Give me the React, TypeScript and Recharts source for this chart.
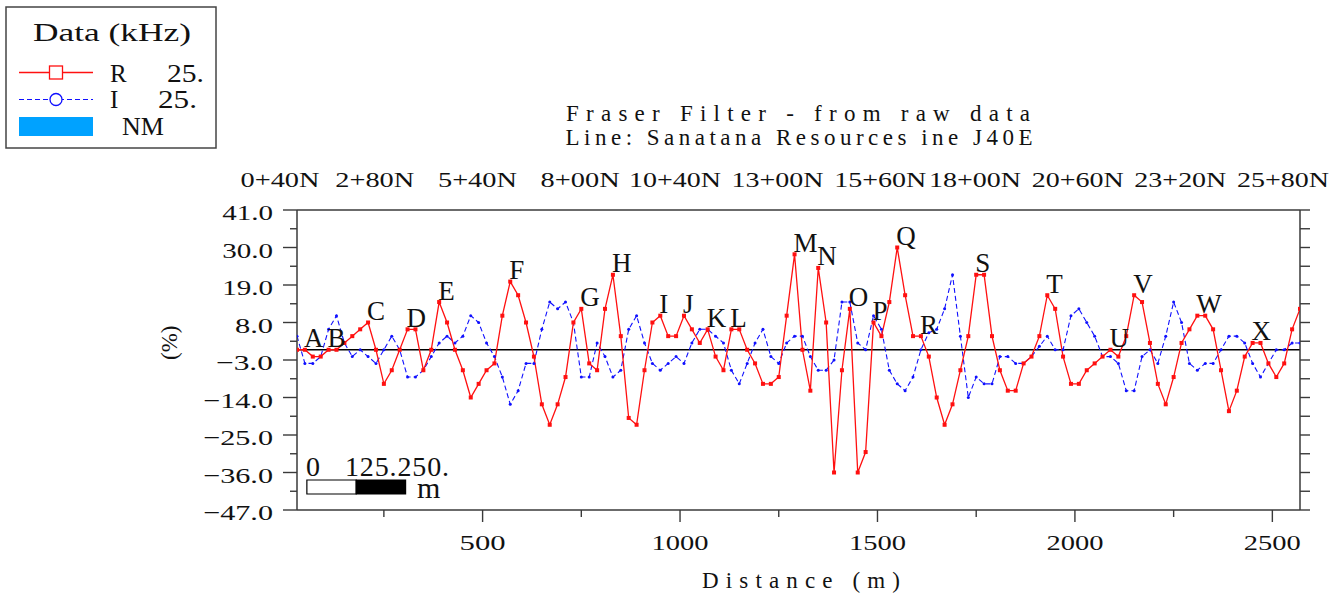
import React from "react";
import {
  LineChart,
  Line,
  XAxis,
  YAxis,
  ReferenceLine,
  ReferenceArea,
  LabelList,
  Legend
} from "recharts";

// distance along the line (m)
const distance = [
  30, 50, 70, 90, 110, 130, 150, 170, 190, 210, 230, 250, 270, 290, 310, 330,
  350, 370, 390, 410, 430, 450, 470, 490, 510, 530, 550, 570, 590, 610, 630, 650,
  670, 690, 710, 730, 750, 770, 790, 810, 830, 850, 870, 890, 910, 930, 950, 970,
  990, 1010, 1030, 1050, 1070, 1090, 1110, 1130, 1150, 1170, 1190, 1210, 1230, 1250, 1270, 1290,
  1310, 1330, 1350, 1370, 1390, 1410, 1430, 1450, 1470, 1490, 1510, 1530, 1550, 1570, 1590, 1610,
  1630, 1650, 1670, 1690, 1710, 1730, 1750, 1770, 1790, 1810, 1830, 1850, 1870, 1890, 1910, 1930,
  1950, 1970, 1990, 2010, 2030, 2050, 2070, 2090, 2110, 2130, 2150, 2170, 2190, 2210, 2230, 2250,
  2270, 2290, 2310, 2330, 2350, 2370, 2390, 2410, 2430, 2450, 2470, 2490, 2510, 2530, 2550, 2570
];

// R 25 kHz, Fraser filtered (%)
const realPct = [
  0, 0, -2, -2, 0, 0, 2, 4, 6, 8, 0, -10, -6, 0, 6, 6,
  -6, 0, 14, 8, 0, -6, -14, -10, -6, -4, 10, 20, 16, 8, -2, -16,
  -22, -16, -8, 8, 12, -4, -6, 12, 22, 4, -20, -22, -6, 8, 10, 4,
  4, 10, 6, 2, 6, -2, -6, 6, 6, 0, -4, -10, -10, -8, 10, 28,
  0, -12, 24, 8, -36, -6, 12, -36, -30, 8, 4, 14, 30, 16, 4, 4,
  -2, -14, -22, -16, -6, 4, 22, 22, 4, -6, -12, -12, -4, -2, 4, 16,
  12, -2, -10, -10, -6, -4, -2, 0, -2, 4, 16, 14, 2, -10, -16, -8,
  2, 6, 10, 10, 6, -6, -18, -12, -2, 2, 2, -4, -8, -4, 6, 12
];

// I 25 kHz, Fraser filtered (%)
const imagPct = [
  4, -4, -4, -2, 6, 10, 2, -2, 0, -2, -4, 0, 4, 0, -8, -8,
  -6, -2, 2, 4, 2, 4, 10, 8, 2, -2, -8, -16, -12, -4, -4, 6,
  14, 12, 14, 8, -8, -8, 2, -2, -8, -6, 6, 10, 2, -4, -6, -4,
  -2, -4, 2, 6, 6, 4, 2, -6, -10, -4, 2, 6, -2, -4, 2, 4,
  4, -2, -6, -6, -3, 14, 14, 2, 0, 10, 6, -6, -10, -12, -8, 0,
  5, 6, 12, 22, 4, -14, -8, -10, -10, -2, -2, -4, -4, -2, 1, 4,
  0, 0, 10, 12, 8, 4, -2, -2, -4, -12, -12, -2, 0, -4, 4, 14,
  8, -4, -6, -4, -4, 0, 4, 4, 2, -4, -8, -4, 0, 0, 2, 2
];

const peakLetters = ["A", "B", "C", "D", "E", "F", "G", "H", "I", "J", "K", "L",
  "M", "N", "O", "P", "Q", "R", "S", "T", "U", "V", "W", "X"];
const peakDistance = [50, 110, 210, 310, 390, 570, 750, 830, 950, 1010, 1070, 1130,
  1290, 1350, 1430, 1490, 1550, 1610, 1750, 1930, 2090, 2150, 2310, 2450];

const yMajorTicks = [-47, -36, -25, -14, -3, 8, 19, 30, 41];
const yAllTicks = [-47, -41.5, -36, -30.5, -25, -19.5, -14, -8.5, -3, 2.5, 8, 13.5, 19, 24.5, 30, 35.5, 41];
const xMajorTicks = [500, 1000, 1500, 2000, 2500];
const xAllTicks = [250, 500, 750, 1000, 1250, 1500, 1750, 2000, 2250, 2500];
// station chainage along the top (m) and its labels
const stationTicks = [40, 280, 540, 800, 1040, 1300, 1560, 1800, 2060, 2320, 2580];
const stationLabels = ["0+40N", "2+80N", "5+40N", "8+00N", "10+40N", "13+00N",
  "15+60N", "18+00N", "20+60N", "23+20N", "25+80N"];
const stationOffset = 53; // station minus distance

const data = distance.map((d, k) => {
  const p = peakDistance.indexOf(d);
  return { d, R: realPct[k], I: imagPct[k], mark: p >= 0 ? peakLetters[p] : "" };
});

const SERIF = "'Liberation Serif', 'Times New Roman', serif";
const AXIS = "#3a3a3a";
const RED = "#ff1010";
const BLUE = "#1010ff";

const LeftTick = (props: any) => {
  const { x, y, payload } = props;
  const v = payload.value as number;
  const major = yMajorTicks.includes(v);
  const body = Math.abs(v).toFixed(1);
  const label = v < 0 ? "\u2212" + body : body;
  const w = body.length * 12.7 + (v < 0 ? 19 : 0);
  return (
    <g>
      <line x1={x - (major ? 14 : 7)} y1={y} x2={x} y2={y} stroke={AXIS} strokeWidth={1.4} />
      {major && (
        <text x={x - 24} y={y + 10} textAnchor="end" fontFamily={SERIF} fontSize={22}
          fill="#111" textLength={w} lengthAdjust="spacingAndGlyphs">{label}</text>
      )}
    </g>
  );
};

const RightTick = (props: any) => {
  const { x, y } = props;
  return <line x1={x} y1={y} x2={x + 10} y2={y} stroke={AXIS} strokeWidth={1.4} />;
};

const BottomTick = (props: any) => {
  const { x, y, payload } = props;
  const v = payload.value as number;
  const major = xMajorTicks.includes(v);
  const s = String(v);
  return (
    <g>
      <line x1={x} y1={y} x2={x} y2={y + (major ? 12 : 7)} stroke={AXIS} strokeWidth={1.4} />
      {major && (
        <text x={x} y={y + 40} textAnchor="middle" fontFamily={SERIF} fontSize={22}
          fill="#111" textLength={s.length === 3 ? 46 : 57} lengthAdjust="spacingAndGlyphs">{s}</text>
      )}
    </g>
  );
};

const TopTick = (props: any) => {
  const { x, y, payload } = props;
  const idx = stationTicks.indexOf(payload.value + stationOffset);
  const s = idx >= 0 ? stationLabels[idx] : "";
  return (
    <text x={x} y={y - 23.5} textAnchor="middle" fontFamily={SERIF} fontSize={22}
      fill="#111" textLength={s.length === 5 ? 79 : 92} lengthAdjust="spacingAndGlyphs">{s}</text>
  );
};

const PeakLabel = (props: any) => {
  const value = props.value;
  if (!value) return null;
  const px = props.viewBox?.x ?? props.x;
  const py = props.viewBox?.y ?? props.y;
  return (
    <text x={px - 1} y={py - 2.5} fontFamily={SERIF} fontSize={27} fill="#111">{value}</text>
  );
};

const SquareDot = (props: any) => {
  const { cx, cy, index } = props;
  return <rect key={"r" + index} x={cx - 2} y={cy - 2} width={4} height={4} fill={RED} />;
};

const RoundDot = (props: any) => {
  const { cx, cy, index } = props;
  return <circle key={"i" + index} cx={cx} cy={cy} r={1.5} fill={BLUE} />;
};

const LegendBox = () => (
  <svg width={222} height={152} style={{ display: "block" }}>
    <rect x={6} y={7} width={210} height={141} fill="#fff" stroke="#444" strokeWidth={1.5} />
    <text x={33} y={41} fontFamily={SERIF} fontSize={25} fill="#111" textLength={158}
      lengthAdjust="spacingAndGlyphs">Data (kHz)</text>
    <line x1={19} y1={72.5} x2={93} y2={72.5} stroke={RED} strokeWidth={1.3} />
    <rect x={49.5} y={66} width={13} height={13} fill="#fff" stroke={RED} strokeWidth={1.3} />
    <text x={110} y={81.5} fontFamily={SERIF} fontSize={25} fill="#111">R</text>
    <text x={167} y={81.5} fontFamily={SERIF} fontSize={25} fill="#111" textLength={37}
      lengthAdjust="spacingAndGlyphs">25.</text>
    <line x1={19} y1={99.5} x2={93} y2={99.5} stroke={BLUE} strokeWidth={1.2} strokeDasharray="5 3" />
    <circle cx={56} cy={99.5} r={6} fill="#fff" stroke={BLUE} strokeWidth={1.3} />
    <text x={110} y={108} fontFamily={SERIF} fontSize={25} fill="#111">I</text>
    <text x={158} y={108} fontFamily={SERIF} fontSize={25} fill="#111" textLength={39}
      lengthAdjust="spacingAndGlyphs">25.</text>
    <rect x={19} y={117} width={74} height={19} fill="#00a2ff" />
    <text x={122} y={135} fontFamily={SERIF} fontSize={25} fill="#111" textLength={42}
      lengthAdjust="spacingAndGlyphs">NM</text>
  </svg>
);

export default function App() {
  return (
    <div style={{ position: "absolute", left: 0, top: 0, width: 1343, height: 595, background: "#fff" }}>
      <LineChart
        width={1343}
        height={595}
        data={data}
        margin={{ top: 178, right: 31, bottom: 45, left: 237 }}
      >
        <XAxis
          xAxisId="dist"
          dataKey="d"
          type="number"
          domain={[30, 2570]}
          allowDataOverflow
          ticks={xAllTicks}
          interval={0}
          height={40}
          tickSize={0}
          tickMargin={0}
          tickLine={false}
          axisLine={{ stroke: AXIS, strokeWidth: 1.5 }}
          tick={<BottomTick />}
        />
        <XAxis
          xAxisId="station"
          dataKey="d"
          orientation="top"
          type="number"
          domain={[30, 2570]}
          allowDataOverflow
          ticks={stationTicks.map((s) => s - stationOffset)}
          interval={0}
          height={32}
          tickSize={0}
          tickMargin={0}
          tickLine={false}
          axisLine={{ stroke: AXIS, strokeWidth: 1.5 }}
          tick={<TopTick />}
        />
        <YAxis
          yAxisId="pct"
          type="number"
          domain={[-47, 41]}
          allowDataOverflow
          ticks={yAllTicks}
          interval={0}
          width={60}
          tickSize={0}
          tickMargin={0}
          tickLine={false}
          axisLine={{ stroke: AXIS, strokeWidth: 1.5 }}
          tick={<LeftTick />}
          label={{
            value: "(%)",
            angle: -90,
            position: "insideLeft",
            offset: -68,
            fontFamily: SERIF,
            fontSize: 23,
            fill: "#111"
          }}
        />
        <YAxis
          yAxisId="pctRight"
          orientation="right"
          type="number"
          domain={[-47, 41]}
          allowDataOverflow
          ticks={yAllTicks}
          interval={0}
          width={12}
          tickSize={0}
          tickMargin={0}
          tickLine={false}
          axisLine={{ stroke: AXIS, strokeWidth: 1.5 }}
          tick={<RightTick />}
        />
        <Legend
          layout="vertical"
          align="center"
          verticalAlign="middle"
          wrapperStyle={{ left: 0, top: 0, width: 222, height: 152 }}
          content={() => <LegendBox />}
        />
        <ReferenceLine xAxisId="dist" yAxisId="pct" y={0} stroke="#000" strokeWidth={1.4} />
        <ReferenceArea xAxisId="dist" yAxisId="pct" x1={55} x2={180} y1={-42.3} y2={-38.2}
          fill="#fff" fillOpacity={1} stroke="#000" strokeWidth={1.2} />
        <ReferenceArea xAxisId="dist" yAxisId="pct" x1={180} x2={305} y1={-42.3} y2={-38.2}
          fill="#000" fillOpacity={1} stroke="#000" strokeWidth={1.2} />
        <Line
          xAxisId="dist"
          yAxisId="pct"
          dataKey="I"
          type="linear"
          stroke={BLUE}
          strokeWidth={1.1}
          strokeDasharray="5 3"
          dot={RoundDot}
          activeDot={false}
          isAnimationActive={false}
        />
        <Line
          xAxisId="dist"
          yAxisId="pct"
          dataKey="R"
          type="linear"
          stroke={RED}
          strokeWidth={1.3}
          dot={SquareDot}
          activeDot={false}
          isAnimationActive={false}
        >
          <LabelList dataKey="mark" content={PeakLabel} />
        </Line>
        <text x={798} y={120.5} textAnchor="middle" fontFamily={SERIF} fontSize={23} fill="#111"
          textLength={464} lengthAdjust="spacing">Fraser Filter - from raw data</text>
        <text x={799} y={145} textAnchor="middle" fontFamily={SERIF} fontSize={23} fill="#111"
          textLength={467} lengthAdjust="spacing">Line: Sanatana Resources ine J40E</text>
        <text x={801} y={588} textAnchor="middle" fontFamily={SERIF} fontSize={23} fill="#111"
          textLength={198} lengthAdjust="spacing">Distance (m)</text>
        <text x={306} y={476} fontFamily={SERIF} fontSize={28} fill="#111">0</text>
        <text x={345} y={476} fontFamily={SERIF} fontSize={28} fill="#111" textLength={104}
          lengthAdjust="spacing">125.250.</text>
        <text x={417} y={498} fontFamily={SERIF} fontSize={30} fill="#111" textLength={26}
          lengthAdjust="spacing">m</text>
      </LineChart>
    </div>
  );
}
